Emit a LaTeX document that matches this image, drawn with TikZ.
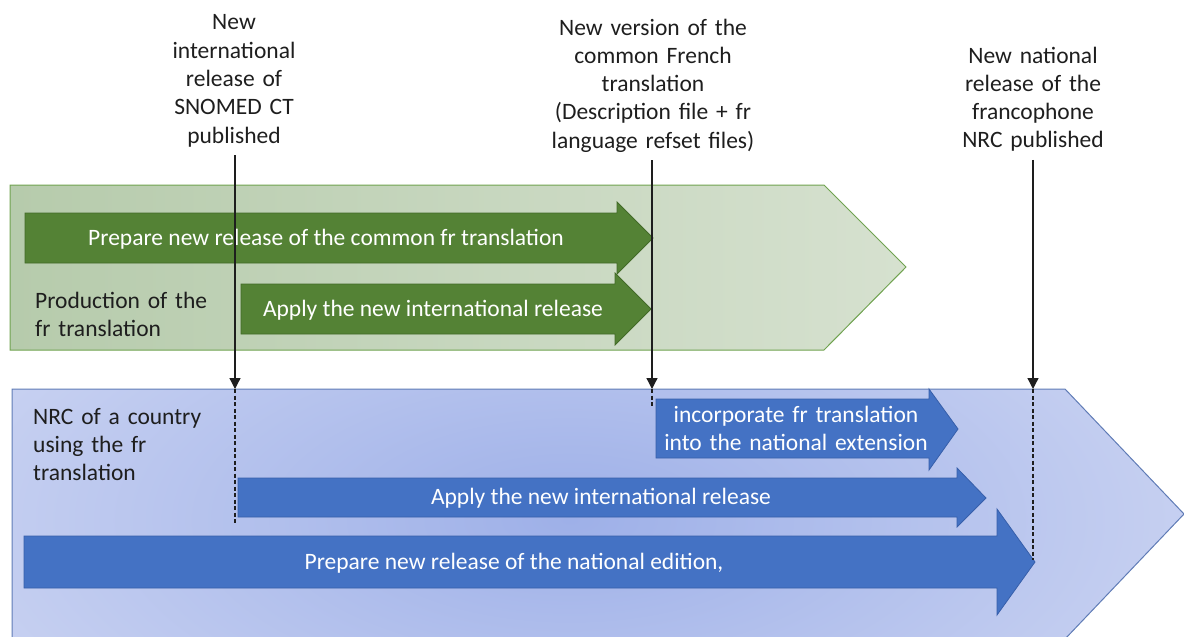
\documentclass[tikz,border=0pt]{standalone}
\usepackage{fontspec}
\setmainfont{Carlito}
\usetikzlibrary{arrows.meta}
\definecolor{grnL}{RGB}{166,192,154}
\definecolor{grnR}{RGB}{230,236,225}
\definecolor{grnEdge}{RGB}{112,163,80}
\definecolor{grnArrow}{RGB}{84,130,53}
\definecolor{grnArrowEdge}{RGB}{66,106,40}
\definecolor{bluIn}{RGB}{158,176,232}
\definecolor{bluOut}{RGB}{226,230,247}
\definecolor{bluEdge}{RGB}{96,124,182}
\definecolor{bluArrow}{RGB}{68,114,196}
\definecolor{bluArrowEdge}{RGB}{55,95,170}
\definecolor{ink}{RGB}{30,30,30}
\begin{document}
\begin{tikzpicture}[x=1pt,y=-1pt,
  txt/.style={font=\fontsize{23.5}{28.3}\selectfont, inner sep=0pt},
  toplab/.style={txt, text=ink, align=center, anchor=base},
  lefttxt/.style={txt, text=ink, align=left, anchor=base west},
  intxt/.style={txt, text=white, anchor=base},
  grnarrow/.style={fill=grnArrow, draw=grnArrowEdge, line width=0.8pt},
  bluarrow/.style={fill=bluArrow, draw=bluArrowEdge, line width=0.8pt},
  evline/.style={draw=ink, line width=1.3pt, shorten <=8pt,
    -{Triangle[width=11pt,length=11pt]}},
  dashline/.style={draw=ink, line width=1.3pt, dash pattern=on 4pt off 2.5pt},
]
\useasboundingbox (0,0) rectangle (1184,637);

% production band of the French translation
\begin{scope}
  \clip (10,185) -- (824,185) -- (906,267) -- (824,350) -- (10,350) -- cycle;
  \shade[left color=grnL, right color=grnR] (-438,185) rectangle (1354,350);
\end{scope}
\draw[grnEdge, line width=1pt] (10,185) -- (824,185) -- (906,267) -- (824,350) -- (10,350) -- cycle;

\path[grnarrow] (25,213) -- (617,213) -- (617,202) -- (653,238) -- (617,274) -- (617,263) -- (25,263) -- cycle;
\path[grnarrow] (241,284) -- (615,284) -- (615,273) -- (651,309) -- (615,345) -- (615,334) -- (241,334) -- cycle;

% national release centre band
\begin{scope}
  \clip (12,389) -- (1065,389) -- (1184,514) -- (1065,639) -- (12,639) -- cycle;
  \shade[inner color=bluIn, outer color=bluOut] (570,520) ellipse [x radius=1050, y radius=480];
\end{scope}
\draw[bluEdge, line width=1pt] (12,645) -- (12,389) -- (1065,389) -- (1184,514) -- (1065,639);

\path[bluarrow] (656,399) -- (929,399) -- (929,389) -- (958,429) -- (929,470) -- (929,458) -- (656,458) -- cycle;
\path[bluarrow] (238,478) -- (957,478) -- (957,468) -- (986,498) -- (957,527) -- (957,517) -- (238,517) -- cycle;
\path[bluarrow] (24,536) -- (997,536) -- (997,509) -- (1035,562) -- (997,615) -- (997,588) -- (24,588) -- cycle;

% texts
\node[intxt] (prepfr) at (326,245) {Prepare new release of the common fr translation};
\node[intxt] (applyfr) at (433,316) {Apply the new international release};
\node[lefttxt, text width=220pt] (prod) at (35,308) {Production of the\\fr translation};

\node[lefttxt, text width=220pt] (nrc) at (33,424) {NRC of a country\\using the fr\\translation};
\node[intxt, align=center, text width=300pt] (incorp) at (796,422) {incorporate fr translation\\into the national extension};
\node[intxt] (applynat) at (601,504) {Apply the new international release};
\node[intxt] (prepnat) at (514,569) {Prepare new release of the national edition,};

\node[toplab, text width=200pt] (lab1) at (234,30) {New\\international\\release of\\SNOMED CT\\published};
\node[toplab, text width=260pt] (lab2) at (653,35) {New version of the\\common French\\translation\\(Description file + fr\\language refset files)};
\node[toplab, text width=200pt] (lab3) at (1033,63) {New national\\release of the\\francophone\\NRC published};

% milestones
\coordinate (t1) at (235,389);
\coordinate (t2) at (652,389);
\coordinate (t3) at (1033,389);
\coordinate (d1) at (235,525);
\coordinate (d2) at (652,407);
\coordinate (d3) at (1033,560);

\draw[evline] (lab1.south -| t1) -- (t1);
\draw[evline] (lab2.south -| t2) -- (t2);
\draw[evline] (lab3.south -| t3) -- (t3);
\draw[dashline] (t1) -- (d1);
\draw[dashline] (t2) -- (d2);
\draw[dashline] (t3) -- (d3);
\end{tikzpicture}
\end{document}
